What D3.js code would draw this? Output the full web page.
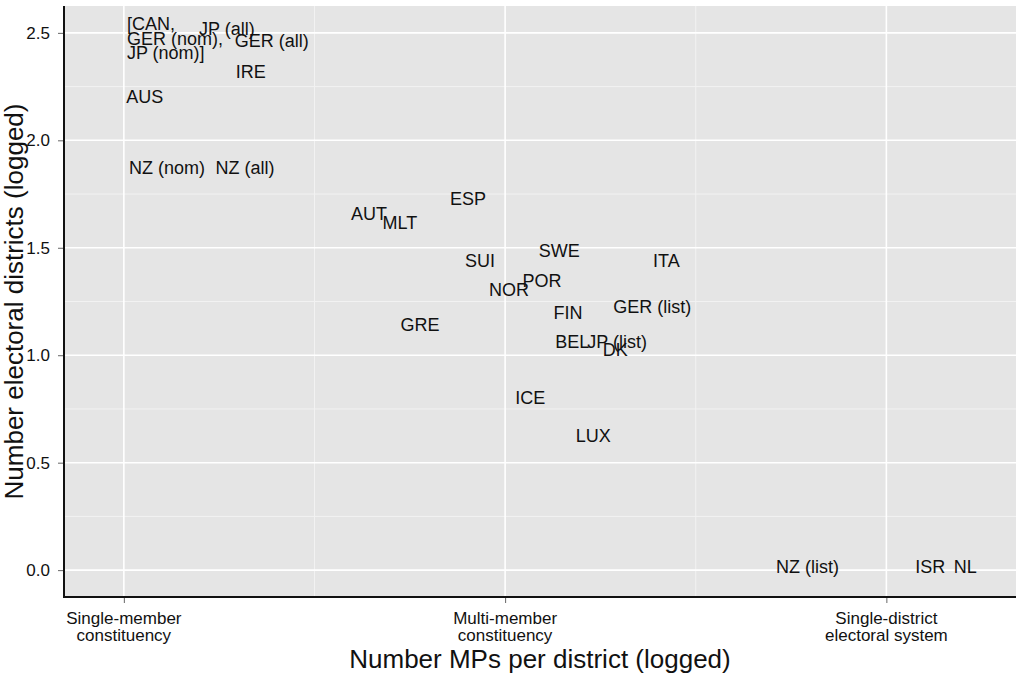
<!DOCTYPE html>
<html>
<head>
<meta charset="utf-8">
<script src="https://cdn.jsdelivr.net/npm/d3@7"></script>
<style>
  body { margin: 0; background: white; }
  text { font-family: "Liberation Sans", Arial, sans-serif; fill: #111; }
</style>
</head>
<body>
<script>
// country labels with their logged positions (x: MPs per district, y: number of districts)
var labels = ["JP (all)", "GER (all)", "IRE", "AUS", "NZ (nom)", "NZ (all)", "ESP", "AUT", "MLT",
    "SUI", "SWE", "ITA", "NOR", "POR", "GER (list)", "FIN", "GRE", "BEL", "JP (list)", "DK",
    "ICE", "LUX", "NZ (list)", "ISR", "NL"];
var mpsLogged = [0.27, 0.388, 0.333, 0.055, 0.113, 0.318, 0.903, 0.643, 0.724,
    0.934, 1.142, 1.423, 1.01, 1.097, 1.386, 1.165, 0.777, 1.176, 1.294, 1.289,
    1.066, 1.231, 1.793, 2.115, 2.207];
var districtsLogged = [2.505, 2.449, 2.305, 2.189, 1.859, 1.859, 1.715, 1.645, 1.602,
    1.427, 1.473, 1.427, 1.292, 1.334, 1.213, 1.185, 1.129, 1.05, 1.05, 1.013,
    0.79, 0.613, 0, 0, 0];

// grouped label written as one left-justified block
var groupLines = ["[CAN,", "GER (nom),", "JP (nom)]"];
var groupPos = {x: 0.008, y: 2.474};

var yTicks = [0, 0.5, 1, 1.5, 2, 2.5];
var yMinor = [0.25, 0.75, 1.25, 1.75, 2.25];
var xTicks = [0, 1, 2];
var xMinor = [0.5, 1.5];
var xTickLabels = [["Single-member", "constituency"], ["Multi-member", "constituency"], ["Single-district", "electoral system"]];

var width = 1017, height = 675;
var panel = {left: 64, right: 1016, top: 6, bottom: 597};

var svg = d3.select("body").append("svg").attr("width", width).attr("height", height);

var x = d3.scaleLinear().domain([-0.157, 2.34]).range([panel.left, panel.right]);
var y = d3.scaleLinear().domain([-0.125, 2.625]).range([panel.bottom, panel.top]);

svg.append("rect")
    .attr("x", panel.left).attr("y", panel.top)
    .attr("width", panel.right - panel.left).attr("height", panel.bottom - panel.top)
    .attr("fill", "#e5e5e5");

// grid
svg.append("g").selectAll("line").data(yMinor).enter().append("line")
    .attr("x1", panel.left).attr("x2", panel.right)
    .attr("y1", (d) => y(d)).attr("y2", (d) => y(d))
    .attr("stroke", "#f2f2f2").attr("stroke-width", 1);
svg.append("g").selectAll("line").data(xMinor).enter().append("line")
    .attr("y1", panel.top).attr("y2", panel.bottom)
    .attr("x1", (d) => x(d)).attr("x2", (d) => x(d))
    .attr("stroke", "#f2f2f2").attr("stroke-width", 1);
svg.append("g").selectAll("line").data(yTicks).enter().append("line")
    .attr("x1", panel.left).attr("x2", panel.right)
    .attr("y1", (d) => y(d)).attr("y2", (d) => y(d))
    .attr("stroke", "white").attr("stroke-width", 1.6);
svg.append("g").selectAll("line").data(xTicks).enter().append("line")
    .attr("y1", panel.top).attr("y2", panel.bottom)
    .attr("x1", (d) => x(d)).attr("x2", (d) => x(d))
    .attr("stroke", "white").attr("stroke-width", 1.6);

// axes
var yAxis = svg.append("g")
    .attr("transform", "translate(" + panel.left + ",0)")
    .call(d3.axisLeft(y).tickValues(yTicks).tickFormat(d3.format(".1f")).tickSize(6).tickPadding(8));
var xAxis = svg.append("g")
    .attr("transform", "translate(0," + panel.bottom + ")")
    .call(d3.axisBottom(x).tickValues(xTicks).tickFormat("").tickSize(6));

[yAxis, xAxis].forEach(function (ax) {
    ax.select(".domain").remove();
    ax.selectAll(".tick line").attr("stroke", "#666").attr("stroke-width", 1);
});
yAxis.selectAll(".tick text").attr("font-size", 17).attr("fill", "#111")
    .attr("font-family", "Liberation Sans, Arial, sans-serif");

svg.append("line").attr("x1", panel.left).attr("x2", panel.left)
    .attr("y1", panel.top).attr("y2", panel.bottom + 1)
    .attr("stroke", "#111").attr("stroke-width", 2);
svg.append("line").attr("x1", panel.left - 1).attr("x2", panel.right)
    .attr("y1", panel.bottom).attr("y2", panel.bottom)
    .attr("stroke", "#111").attr("stroke-width", 2);

// two-line x tick labels
var xLab = svg.append("g").selectAll("text").data(xTicks).enter().append("text")
    .attr("text-anchor", "middle")
    .attr("font-size", 17)
    .attr("transform", (d) => "translate(" + x(d) + "," + (panel.bottom + 27) + ")");
xLab.each(function (d, i) {
    var t = d3.select(this);
    xTickLabels[i].forEach(function (line, j) {
        t.append("tspan").attr("x", 0).attr("y", j * 17).text(line);
    });
});

// axis titles
svg.append("text")
    .attr("x", (panel.left + panel.right) / 2).attr("y", 668)
    .attr("text-anchor", "middle").attr("font-size", 26)
    .text("Number MPs per district (logged)");
svg.append("text")
    .attr("transform", "translate(23," + (panel.top + panel.bottom) / 2 + ") rotate(-90)")
    .attr("text-anchor", "middle").attr("font-size", 26)
    .text("Number electoral districts (logged)");

// point labels (centred on the whole text box, so caps sit a little high)
svg.append("g").selectAll("text").data(labels).enter().append("text")
    .attr("x", (d, i) => x(mpsLogged[i]))
    .attr("y", (d, i) => y(districtsLogged[i]))
    .attr("dy", "0.18em")
    .attr("text-anchor", "middle")
    .attr("font-size", 18)
    .text((d) => d);

var grp = svg.append("text")
    .attr("font-size", 18)
    .attr("text-anchor", "start");
groupLines.forEach(function (line, j) {
    grp.append("tspan")
        .attr("x", x(groupPos.x))
        .attr("y", y(groupPos.y) + (j - 1) * 14.5)
        .attr("dy", "0.35em")
        .text(line);
});
</script>
</body>
</html>
